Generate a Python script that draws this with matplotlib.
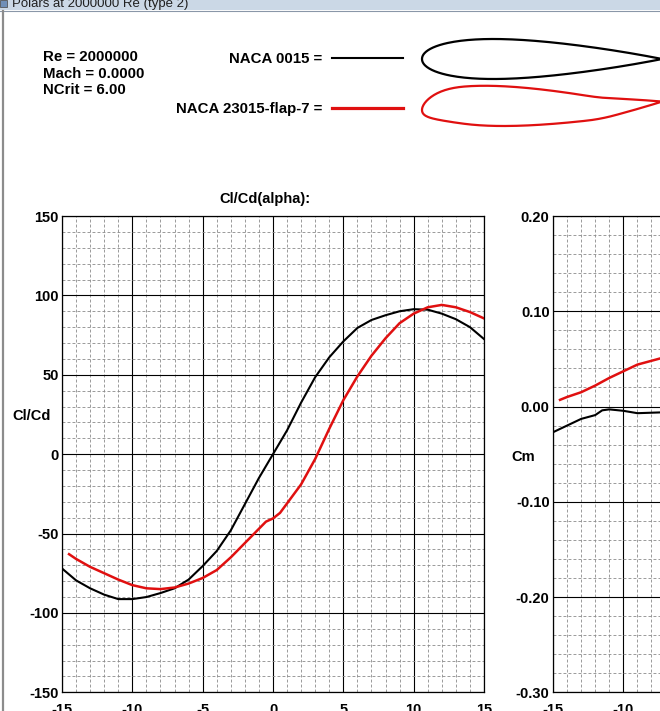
import numpy as np
import matplotlib
matplotlib.use("Agg")
import matplotlib.pyplot as plt
from matplotlib.ticker import MultipleLocator

plt.rcParams['font.family'] = ['Liberation Sans', 'DejaVu Sans']
plt.rcParams['font.weight'] = 'bold'
plt.rcParams['axes.unicode_minus'] = False

# header info
header_lines = ["Re = 2000000", "Mach = 0.0000", "NCrit = 6.00"]
legend_names = ["NACA 0015 =", "NACA 23015-flap-7 ="]
series_colors = ["black", "#e01010"]

# Cl/Cd vs alpha
alpha_0015 = [-15, -14, -13, -12, -11, -10, -9, -8, -7, -6, -5, -4, -3, -2, -1, 0,
              1, 2, 3, 4, 5, 6, 7, 8, 9, 10, 11, 12, 13, 14, 15]
clcd_0015 = [-72, -79.5, -84.5, -88.5, -91.3, -91.3, -90, -87.5, -84.5, -79, -70.5, -61, -48, -31.5, -15, 0,
             15, 32.5, 48.5, 61, 71, 79.5, 84.5, 87.5, 90, 91.3, 91, 88.5, 85, 80, 72.5]

alpha_23015 = [-14.5, -14, -13, -12, -11, -10, -9, -8, -7, -6, -5, -4, -3, -2, -1, -0.5, 0,
               0.5, 1, 2, 3, 4, 5, 6, 7, 8, 9, 10, 11, 12, 13, 14, 15]
clcd_23015 = [-63, -66, -71, -75, -79, -82.5, -84.5, -85, -84, -81.5, -78, -73, -65, -56, -47, -42.5, -40.5,
              -37, -31, -19, -3, 16, 34, 49, 62, 73, 82.5, 88.5, 92.5, 94, 92.5, 89.5, 85.5]

# Cm vs alpha (only the left part is visible)
alpha_cm_0015 = [-15, -14, -13, -12, -11.5, -11, -10, -9, -8, -7, -6, -5]
cm_0015 = [-0.027, -0.020, -0.013, -0.009, -0.004, -0.003, -0.0045, -0.007, -0.0065, -0.006, -0.006, -0.006]
alpha_cm_23015 = [-14.5, -14, -13, -12, -11, -10, -9, -8, -7, -6, -5]
cm_23015 = [0.007, 0.010, 0.015, 0.022, 0.030, 0.037, 0.044, 0.048, 0.052, 0.055, 0.058]

W, H = 660, 711
fig = plt.figure(figsize=(W / 100, H / 100), dpi=100)

# background overlay in pixel coordinates
bg = fig.add_axes([0, 0, 1, 1])
bg.set_xlim(0, W)
bg.set_ylim(H, 0)
bg.axis('off')
bg.add_patch(plt.Rectangle((0, 0), W, 10, color='#cbd8e6', lw=0))
bg.plot([0, W], [10.5, 10.5], color='#8a97a8', lw=0.8)
bg.add_patch(plt.Rectangle((0, 0), 7, 7, facecolor='#6f8fb8', edgecolor='#444444', lw=0.5))
bg.text(12, 6.5, "Polars at 2000000 Re (type 2)", fontsize=9.5, fontweight='normal',
        color='#202020', va='baseline', ha='left')
bg.plot([2.5, 2.5], [11, H], color='#8c8c8c', lw=1.6)

for i, line in enumerate(header_lines):
    bg.text(43, 57 + i * 16.5, line, fontsize=10.8, va='center', ha='left')

for i, (name, col) in enumerate(zip(legend_names, series_colors)):
    yy = 59 + i * 50
    bg.text(322, yy, name, fontsize=10.8, va='center', ha='right')
    bg.plot([332, 403], [yy - 1, yy - 1], color=col, lw=1.5 + i * 0.8)

# airfoil outlines (NACA 0015 and NACA 23015 with flap raised 7 deg)
xc = (1 - np.cos(np.linspace(0, np.pi, 160))) / 2
yt = 5 * 0.15 * (0.2969 * np.sqrt(xc) - 0.1260 * xc - 0.3516 * xc**2
                 + 0.2843 * xc**3 - 0.1015 * xc**4)
m, k1 = 0.2025, 15.957
yc = np.where(xc < m, k1 / 6 * (xc**3 - 3 * m * xc**2 + m**2 * (3 - m) * xc),
              k1 * m**3 / 6 * (1 - xc))
hinge, blend = 0.75, 0.06
d = xc - hinge
flap = np.where(d > blend, d, np.where(d > -blend, (d + blend)**2 / (4 * blend), 0))
yc_flap = yc + flap * np.tan(np.radians(7))

chord, x_le, sy = 238, 422, 1.12
for camber, y0, col in [(np.zeros_like(xc), 59, 'black'), (yc_flap, 110, '#e01010')]:
    xs = np.concatenate([xc[::-1], xc[1:]])
    ys = np.concatenate([(camber + yt)[::-1], (camber - yt)[1:]])
    bg.plot(x_le + xs * chord, y0 - ys * chord * sy, color=col, lw=1.6)

bg.text(264.5, 199, "Cl/Cd(alpha):", fontsize=10.5, ha='center', va='center')
bg.text(12, 416, "Cl/Cd", fontsize=10.5, ha='left', va='center')
bg.text(511, 457, "Cm", fontsize=10.5, ha='left', va='center')


def style_axis(ax):
    ax.set_xlim(-15, 15)
    ax.xaxis.set_major_locator(MultipleLocator(5))
    ax.xaxis.set_minor_locator(MultipleLocator(1))
    ax.grid(which='major', color='black', lw=0.8)
    ax.grid(which='minor', color='#8a8a8a', lw=0.6, linestyle=(0, (3.5, 2.5)))
    ax.set_axisbelow(True)
    ax.tick_params(which='both', length=0)
    ax.tick_params(axis='x', pad=8, labelsize=10.5)
    ax.tick_params(axis='y', pad=2.5, labelsize=10.5)
    for s in ax.spines.values():
        s.set_color('black')
        s.set_linewidth(0.9)
    ax.set_facecolor('white')


# left: Cl/Cd
axL = fig.add_axes([62 / W, 1 - 692.3 / H, 422 / W, (692.3 - 216) / H])
style_axis(axL)
axL.set_ylim(-150, 150)
axL.yaxis.set_major_locator(MultipleLocator(50))
axL.yaxis.set_minor_locator(MultipleLocator(10))
axL.plot(alpha_0015, clcd_0015, color=series_colors[0], lw=1.5)
axL.plot(alpha_23015, clcd_23015, color=series_colors[1], lw=1.8)

# right: Cm (cut off at the picture edge)
axR = fig.add_axes([553 / W, 1 - 692.3 / H, 422 / W, (692.3 - 216) / H])
style_axis(axR)
axR.set_ylim(-0.30, 0.20)
axR.yaxis.set_major_locator(MultipleLocator(0.1))
axR.yaxis.set_minor_locator(MultipleLocator(0.02))
axR.yaxis.set_major_formatter(matplotlib.ticker.FormatStrFormatter('%.2f'))
axR.plot(alpha_cm_0015, cm_0015, color=series_colors[0], lw=1.5)
axR.plot(alpha_cm_23015, cm_23015, color=series_colors[1], lw=1.8)

fig.savefig('out.png', dpi=100)
